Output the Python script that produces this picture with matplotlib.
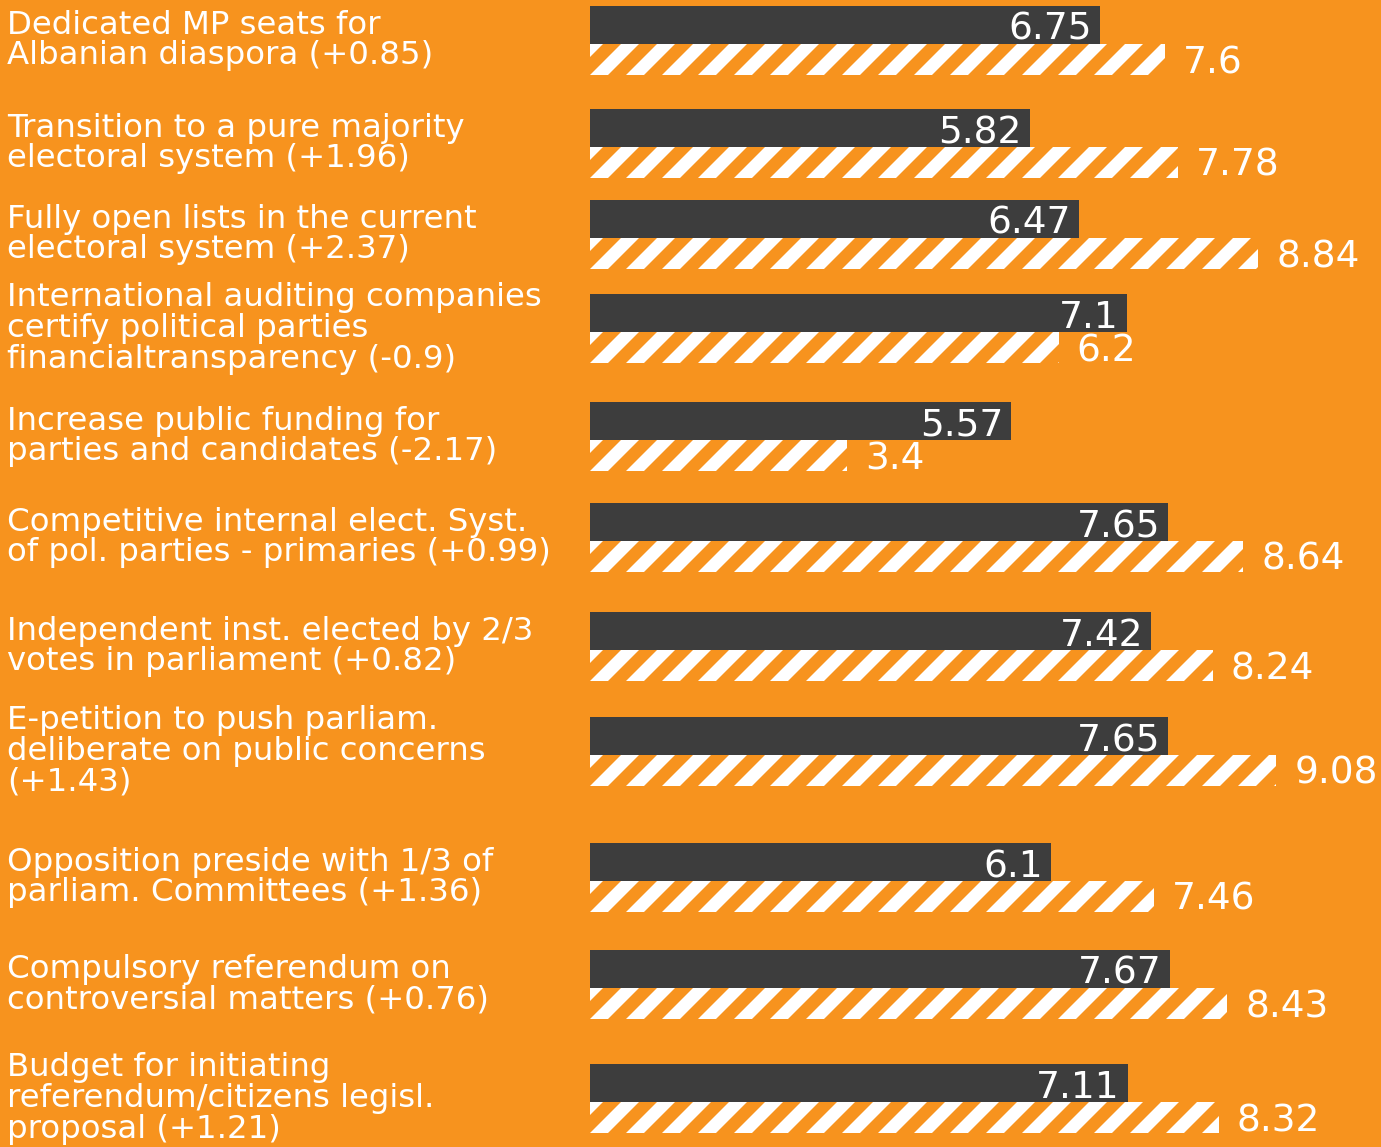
import matplotlib
matplotlib.use("Agg")
import matplotlib.pyplot as plt
from matplotlib.collections import PolyCollection

plt.rcParams['font.family'] = ['DejaVu Sans']

# 各項目のラベルとスコア
labels = [
    "Dedicated MP seats for\nAlbanian diaspora (+0.85)",
    "Transition to a pure majority\nelectoral system (+1.96)",
    "Fully open lists in the current\nelectoral system (+2.37)",
    "International auditing companies\ncertify political parties\nfinancialtransparency (-0.9)",
    "Increase public funding for\nparties and candidates (-2.17)",
    "Competitive internal elect. Syst.\nof pol. parties - primaries (+0.99)",
    "Independent inst. elected by 2/3\nvotes in parliament (+0.82)",
    "E-petition to push parliam.\ndeliberate on public concerns\n(+1.43)",
    "Opposition preside with 1/3 of\nparliam. Committees (+1.36)",
    "Compulsory referendum on\ncontroversial matters (+0.76)",
    "Budget for initiating\nreferendum/citizens legisl.\nproposal (+1.21)",
]
before = [6.75, 5.82, 6.47, 7.1, 5.57, 7.65, 7.42, 7.65, 6.1, 7.67, 7.11]
after = [7.6, 7.78, 8.84, 6.2, 3.4, 8.64, 8.24, 9.08, 7.46, 8.43, 8.32]

# 行の位置（上端, px）
row_top = [6, 109, 200, 294, 402, 503, 612, 717, 843, 950, 1064]

ORANGE = '#F7931E'
DARK = '#3D3D3D'
W, H, DPI = 1381, 1147, 216
X0, PX_PER_UNIT = 590, 75.6
BAR_H, HATCH_H = 38, 31
STRIPE_PERIOD, STRIPE_W = 36, 18   # 斜線の間隔と幅（px）

fig = plt.figure(figsize=(W / DPI, H / DPI), dpi=DPI, facecolor=ORANGE)
ax = fig.add_axes([0, 0, 1, 1])
ax.set_facecolor(ORANGE)
ax.set_xlim(-X0 / PX_PER_UNIT, (W - X0) / PX_PER_UNIT)
ax.set_ylim(H, 0)
ax.axis('off')


def stripes(y_bot, y_top, x_max):
    """45度の斜線（平行四辺形）を作る"""
    h = (y_bot - y_top) / PX_PER_UNIT
    p = STRIPE_PERIOD / PX_PER_UNIT
    w = STRIPE_W / PX_PER_UNIT
    polys = []
    k = -int(h / p) - 1
    while k * p < x_max:
        x = k * p
        polys.append([(x, y_bot), (x + w, y_bot), (x + w + h, y_top), (x + h, y_top)])
        k += 1
    return polys


for lab, b, a, top in zip(labels, before, after, row_top):
    bottom = top + BAR_H
    # 斜線バー（後）
    hb = ax.barh(bottom + HATCH_H / 2, a, height=HATCH_H, left=0,
                 color=ORANGE, linewidth=0, zorder=1)
    pc = PolyCollection(stripes(bottom + HATCH_H, bottom, a), facecolors='white',
                        edgecolors='none', zorder=1.5)
    ax.add_collection(pc)
    pc.set_clip_path(hb.patches[0])
    # 濃色バー（前）
    ax.barh(top + BAR_H / 2, b, height=BAR_H, left=0, color=DARK,
            linewidth=0, zorder=2)
    ax.text(b - 8 / PX_PER_UNIT, bottom - 4, f'{b:g}', color='white',
            fontsize=12.5, ha='right', va='baseline', zorder=3)
    ax.text(a + 18 / PX_PER_UNIT, bottom + 29, f'{a:g}', color='white',
            fontsize=12.5, ha='left', va='baseline', zorder=3)
    ax.text((7 - X0) / PX_PER_UNIT, top + (BAR_H + HATCH_H) / 2, lab,
            color='white', fontsize=10.8, ha='left', va='center',
            linespacing=0.98, zorder=3)

fig.savefig('out.png', dpi=DPI, facecolor=ORANGE)
